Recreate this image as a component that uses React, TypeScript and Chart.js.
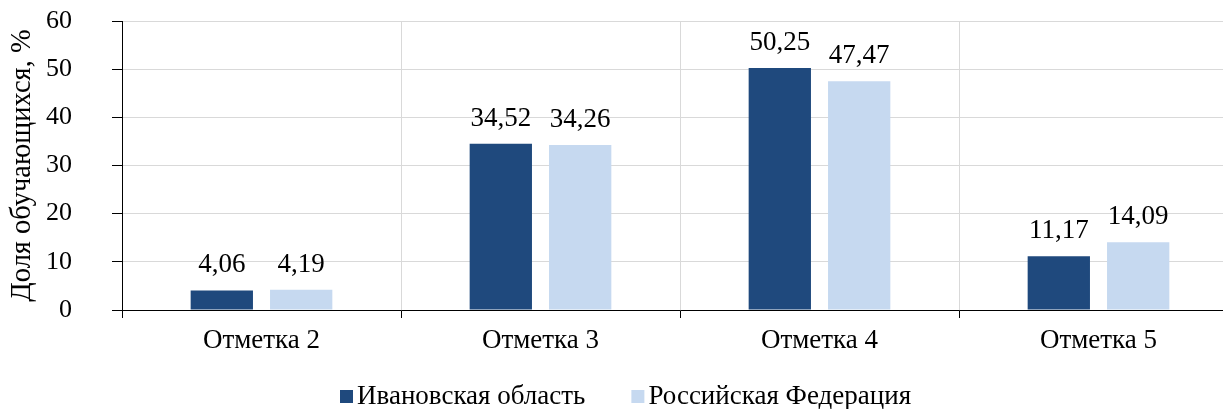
import React, { useEffect, useRef } from "react";
import { Chart, registerables } from "chart.js";

Chart.register(...registerables);

const categories = ["Отметка 2", "Отметка 3", "Отметка 4", "Отметка 5"];
const ivanovoValues = [4.06, 34.52, 50.25, 11.17];
const russiaValues = [4.19, 34.26, 47.47, 14.09];
const seriesNames = ["Ивановская область", "Российская Федерация"];
const seriesColors = ["#1F497D", "#C6D9F0"];
const yTitle = "Доля обучающихся, %";

const FONT = "'Liberation Serif', 'Times New Roman', serif";

const fmt = (v: number) => v.toFixed(2).replace(".", ",");

const dataLabelPlugin = {
  id: "dataLabels",
  afterDatasetsDraw(chart: any) {
    const ctx = chart.ctx;
    ctx.save();
    ctx.font = `27px ${FONT}`;
    ctx.fillStyle = "#000";
    ctx.textAlign = "center";
    ctx.textBaseline = "alphabetic";
    chart.data.datasets.forEach((ds: any, i: number) => {
      const meta = chart.getDatasetMeta(i);
      meta.data.forEach((el: any, j: number) => {
        ctx.fillText(fmt(ds.data[j]), el.x, el.y - 18);
      });
    });
    ctx.restore();
  },
};

const legendPlugin = {
  id: "customLegend",
  afterDraw(chart: any) {
    const ctx = chart.ctx;
    ctx.save();
    ctx.font = `27px ${FONT}`;
    ctx.textBaseline = "alphabetic";
    ctx.textAlign = "left";
    const box = 13;
    const boxGap = 4;
    const itemGap = 46;
    const items = chart.data.datasets.map((ds: any) => ({
      color: ds.backgroundColor,
      text: ds.label,
      w: ctx.measureText(ds.label).width,
    }));
    const total = items.reduce((s: number, it: any) => s + box + boxGap + it.w, 0) + itemGap * (items.length - 1);
    let x = Math.round(626 - total / 2);
    const baseline = 404;
    items.forEach((it: any) => {
      ctx.fillStyle = it.color;
      ctx.fillRect(x, 390, box, box);
      x += box + boxGap;
      ctx.fillStyle = "#000";
      ctx.fillText(it.text, x, baseline);
      x += it.w + itemGap;
    });
    ctx.restore();
  },
};

export default function App() {
  const ref = useRef<HTMLCanvasElement>(null);
  useEffect(() => {
    const chart = new Chart(ref.current!, {
      type: "bar",
      data: {
        labels: categories,
        datasets: [
          { label: seriesNames[0], data: ivanovoValues, backgroundColor: seriesColors[0] },
          { label: seriesNames[1], data: russiaValues, backgroundColor: seriesColors[1] },
        ],
      },
      options: {
        animation: false,
        responsive: false,
        maintainAspectRatio: false,
        layout: { padding: { top: 21, right: 2, left: 0, bottom: 0 } },
        datasets: { bar: { categoryPercentage: 0.569, barPercentage: 0.785 } } as any,
        plugins: { legend: { display: false }, tooltip: { enabled: false } },
        scales: {
          x: {
            offset: true,
            grid: { offset: true, color: "#D9D9D9", tickColor: "#000", tickLength: 8, lineWidth: 1 },
            border: { color: "#000", width: 1 },
            ticks: { color: "#000", font: { family: FONT, size: 27 }, padding: 7 },
            afterFit(scale: any) {
              scale.height = 99;
              scale.paddingLeft = 0;
              scale.paddingRight = 0;
            },
          },
          y: {
            min: 0,
            max: 60,
            ticks: { stepSize: 10, color: "#000", font: { family: FONT, size: 26 }, padding: 40 },
            grid: { color: "#D9D9D9", tickColor: "#000", tickLength: 10 },
            border: { color: "#000", width: 1 },
            title: { display: true, text: yTitle, color: "#000", font: { family: FONT, size: 28.5 }, padding: { top: 5, bottom: 0 } },
            afterFit(scale: any) {
              scale.width = 122;
              scale.paddingTop = 0;
              scale.paddingBottom = 0;
            },
          },
        },
      },
      plugins: [dataLabelPlugin, legendPlugin],
    });
    return () => chart.destroy();
  }, []);
  return (
    <div style={{ position: "fixed", left: 0, top: 0, width: 1240, height: 409, background: "#fff" }}>
      <canvas ref={ref} width={1240} height={409} style={{ width: 1240, height: 409 }} />
    </div>
  );
}
